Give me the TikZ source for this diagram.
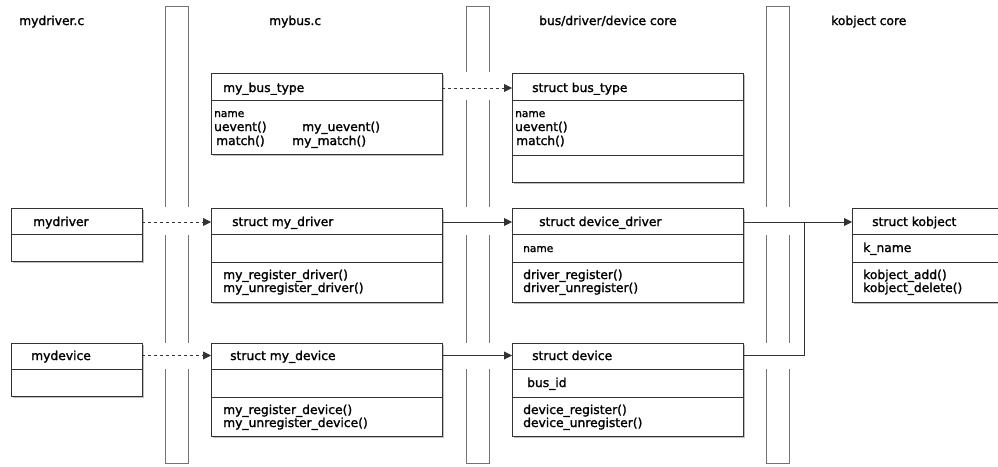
\documentclass[tikz,border=0pt]{standalone}
\usepackage{fontspec}
\setmainfont{DejaVu Sans}
\newfontfamily\diafont[FakeBold=1.6]{DejaVu Sans}
\usetikzlibrary{arrows.meta}

\tikzset{
  x=1pt, y=-1pt,
  lane/.style={draw=black!55, line width=0.9pt},
  umlbox/.style={draw=black!80, line width=0.9pt, fill=white, anchor=north west,
    inner sep=0pt, outer sep=0pt,
    preaction={fill=black!45, opacity=0.55, transform canvas={xshift=2pt, yshift=-2pt}}},
  sep/.style={draw=black!80, line width=0.9pt},
  txt/.style={anchor=base west, inner sep=0pt, font=\diafont\fontsize{12.3}{13}\selectfont, text=black},
  small/.style={txt, font=\diafont\fontsize{10.6}{12}\selectfont},
  link/.style={draw=black!80, line width=0.9pt, -{Triangle[length=8pt,width=8pt]}},
  dep/.style={link, dash pattern=on 3pt off 3pt},
  plain/.style={draw=black!80, line width=0.9pt}
}

\begin{document}
\begin{tikzpicture}
\useasboundingbox (0,0) rectangle (998,466);
\clip (0,0) rectangle (998,466);
\fill[white] (0,0) rectangle (998,466);

% swim-lane separators, broken where the rows cross them
\draw[lane] (165,207) -- (165,6) -- (188,6) -- (188,207);
\draw[lane] (165,235) -- (165,343) (188,235) -- (188,343);
\draw[lane] (165,369) -- (165,463) -- (188,463) -- (188,369);

\draw[lane] (466,72) -- (466,6) -- (489,6) -- (489,72);
\draw[lane] (466,100) -- (466,207) (489,100) -- (489,207);
\draw[lane] (466,235) -- (466,343) (489,235) -- (489,343);
\draw[lane] (466,369) -- (466,463) -- (489,463) -- (489,369);

\draw[lane] (766,207) -- (766,6) -- (789,6) -- (789,207);
\draw[lane] (766,235) -- (766,343) (789,235) -- (789,343);
\draw[lane] (766,369) -- (766,463) -- (789,463) -- (789,369);

% lane titles
\node[txt] (t1) at (19,25) {mydriver.c};
\node[txt] (t2) at (269,25) {mybus.c};
\node[txt] (t3) at (539,25) {bus/driver/device core};
\node[txt] (t4) at (831,25) {kobject core};

% ---- row 1: bus types
\node[umlbox, minimum width=231pt, minimum height=81pt] (mbt) at (211,73) {};
\draw[sep] (211,100) -- (442,100);
\node[txt] at (223,92) {my\_bus\_type};
\node[small] at (214,117) {name};
\node[txt] at (214,131) {uevent()};
\node[txt] at (302,131) {my\_uevent()};
\node[txt] at (216,145) {match()};
\node[txt] at (292,145) {my\_match()};

\node[umlbox, minimum width=231pt, minimum height=109pt] (sbt) at (512,73) {};
\draw[sep] (512,100) -- (743,100);
\draw[sep] (512,155) -- (743,155);
\node[txt] at (532,92) {struct bus\_type};
\node[small] at (515,117) {name};
\node[txt] at (515,131) {uevent()};
\node[txt] at (516,145) {match()};

% ---- row 2: drivers
\node[umlbox, minimum width=131pt, minimum height=53pt] (mdrv) at (11,208) {};
\draw[sep] (11,234) -- (142,234);
\node[txt] at (33,226) {mydriver};

\node[umlbox, minimum width=231pt, minimum height=94pt] (smd) at (211,208) {};
\draw[sep] (211,234) -- (442,234);
\draw[sep] (211,262) -- (442,262);
\node[txt] at (232,226) {struct my\_driver};
\node[txt] at (223,279) {my\_register\_driver()};
\node[txt] at (223,292) {my\_unregister\_driver()};

\node[umlbox, minimum width=231pt, minimum height=94pt] (sdd) at (512,208) {};
\draw[sep] (512,234) -- (743,234);
\draw[sep] (512,262) -- (743,262);
\node[txt] at (539,226) {struct device\_driver};
\node[small] at (523,252) {name};
\node[txt] at (523,279) {driver\_register()};
\node[txt] at (523,292) {driver\_unregister()};

\node[umlbox, minimum width=180pt, minimum height=94pt] (sko) at (852,208) {};
\draw[sep] (852,234) -- (1032,234);
\draw[sep] (852,262) -- (1032,262);
\node[txt] at (872,226) {struct kobject};
\node[txt] at (863,252) {k\_name};
\node[txt] at (863,279) {kobject\_add()};
\node[txt] at (863,292) {kobject\_delete()};

% ---- row 3: devices
\node[umlbox, minimum width=131pt, minimum height=53pt] (mdev) at (11,343) {};
\draw[sep] (11,369) -- (142,369);
\node[txt] at (31,360) {mydevice};

\node[umlbox, minimum width=231pt, minimum height=93pt] (smv) at (211,343) {};
\draw[sep] (211,369) -- (442,369);
\draw[sep] (211,397) -- (442,397);
\node[txt] at (230,360) {struct my\_device};
\node[txt] at (223,414) {my\_register\_device()};
\node[txt] at (223,427) {my\_unregister\_device()};

\node[umlbox, minimum width=231pt, minimum height=93pt] (sdv) at (512,343) {};
\draw[sep] (512,369) -- (743,369);
\draw[sep] (512,397) -- (743,397);
\node[txt] at (532,360) {struct device};
\node[txt] at (527,387) {bus\_id};
\node[txt] at (523,414) {device\_register()};
\node[txt] at (523,427) {device\_unregister()};

% ---- connectors
\draw[dep] ([yshift=-15pt]mbt.north east) -- ([yshift=-15pt]sbt.north west);
\draw[dep] ([yshift=-14pt]mdrv.north east) -- ([yshift=-14pt]smd.north west);
\draw[dep] ([yshift=-12.5pt]mdev.north east) -- ([yshift=-12.5pt]smv.north west);
\draw[link] ([yshift=-14pt]smd.north east) -- ([yshift=-14pt]sdd.north west);
\draw[link] ([yshift=-12.5pt]smv.north east) -- ([yshift=-12.5pt]sdv.north west);
\draw[link] ([yshift=-14pt]sdd.north east) -- ([yshift=-14pt]sko.north west);
\coordinate (join) at (804,222);
\draw[plain] ([yshift=-12.5pt]sdv.north east) -| (join);
\end{tikzpicture}
\end{document}
